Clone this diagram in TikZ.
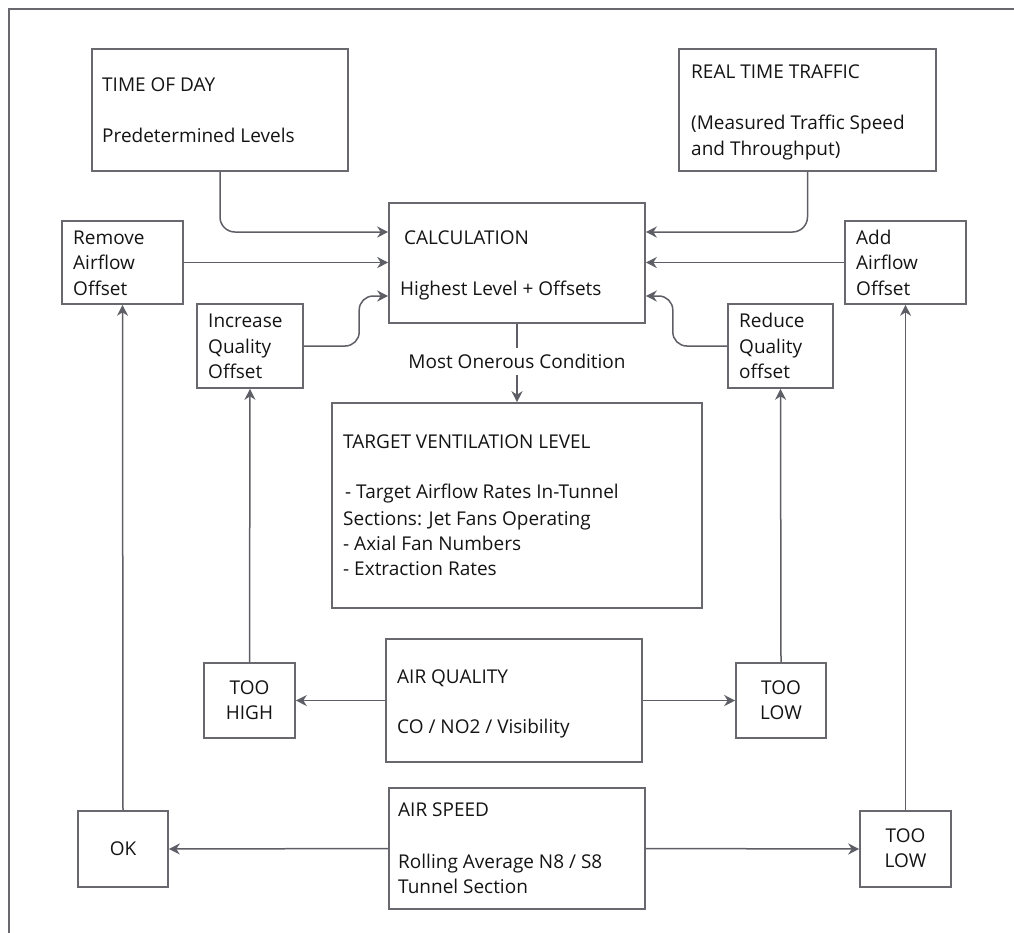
\documentclass[tikz,border=0pt]{standalone}
\usepackage{fontspec}
\setmainfont{Open Sans}
\usetikzlibrary{arrows.meta}
\definecolor{boxgray}{RGB}{104,104,110}
\definecolor{linegray}{RGB}{94,94,102}
\definecolor{txt}{RGB}{20,20,20}
\tikzset{
  box/.style={draw=boxgray, line width=1.6pt, rectangle, inner sep=0pt},
  lbl/.style={anchor=base west, inner sep=0pt, text=txt, font=\fontsize{19}{23}\selectfont},
  clbl/.style={anchor=base, inner sep=0pt, text=txt, font=\fontsize{19}{23}\selectfont},
  conn/.style={draw=linegray, line width=1.5pt, -{Stealth[length=11pt,width=11pt,inset=3.5pt]}},
  plain/.style={draw=linegray, line width=1.5pt},
}
\begin{document}
\begin{tikzpicture}[x=1pt,y=-1pt]
\useasboundingbox (0,0) rectangle (1014,932);
% outer frame
\draw[draw=boxgray, line width=2.2pt] (9,940) -- (9,9) -- (1020,9);

% boxes
\node[box, minimum width=256pt, minimum height=122pt] (tod) at (220,110) {};
\node[box, minimum width=257pt, minimum height=122pt] (rtt) at (807.5,110) {};
\node[box, minimum width=256pt, minimum height=120pt] (calc) at (517,263) {};
\node[box, minimum width=121pt, minimum height=83pt] (rem) at (122.5,262.5) {};
\node[box, minimum width=121pt, minimum height=83pt] (add) at (905.5,262.5) {};
\node[box, minimum width=106pt, minimum height=84pt] (inc) at (250,346) {};
\node[box, minimum width=105pt, minimum height=84pt] (red) at (780.5,346) {};
\node[box, minimum width=370pt, minimum height=205pt] (target) at (517,505.5) {};
\node[box, minimum width=256pt, minimum height=123pt] (aq) at (514,700.5) {};
\node[box, minimum width=91pt, minimum height=75pt] (tooh) at (249.5,700.5) {};
\node[box, minimum width=90pt, minimum height=75pt] (tool1) at (781,700.5) {};
\node[box, minimum width=256pt, minimum height=121pt] (as) at (517,848.5) {};
\node[box, minimum width=90pt, minimum height=76pt] (ok) at (123,849) {};
\node[box, minimum width=91pt, minimum height=76pt] (tool2) at (905.5,849) {};

% texts
\node[lbl] (tod1) at (102,91) {TIME OF DAY};
\node[lbl] (tod2) at (102,142) {Predetermined Levels};
\node[lbl] (rtt1) at (691,78) {REAL TIME TRAFFIC};
\node[lbl] (rtt2) at (691,129) {(Measured Traffic Speed};
\node[lbl] (rtt3) at (691,155) {and Throughput)};
\node[lbl] (calc1) at (404,244) {CALCULATION};
\node[lbl] (calc2) at (400,295) {Highest Level + Offsets};
\node[lbl] (rem1) at (73,244) {Remove};
\node[lbl] (rem2) at (73,269) {Airflow};
\node[lbl] (rem3) at (73,295) {Offset};
\node[lbl] (add1) at (856,244) {Add};
\node[lbl] (add2) at (856,269) {Airflow};
\node[lbl] (add3) at (856,295) {Offset};
\node[lbl] (inc1) at (208,327) {Increase};
\node[lbl] (inc2) at (208,353) {Quality};
\node[lbl] (inc3) at (208,378) {Offset};
\node[lbl] (red1) at (739,327) {Reduce};
\node[lbl] (red2) at (739,353) {Quality};
\node[lbl] (red3) at (739,378) {offset};
\node[lbl] (tg1) at (343,448) {TARGET VENTILATION LEVEL};
\node[lbl] (tg2) at (343,498) {\hspace{2pt}- Target Airflow Rates In-Tunnel};
\node[lbl] (tg3) at (343,525) {Sections: Jet Fans Operating};
\node[lbl] (tg4) at (343,550) {- Axial Fan Numbers};
\node[lbl] (tg5) at (343,575) {- Extraction Rates};
\node[lbl] (aq1) at (397,683) {AIR QUALITY};
\node[lbl] (aq2) at (397,733) {CO / NO2 / Visibility};
\node[clbl] (th1) at (249.5,694) {TOO};
\node[clbl] (th2) at (249.5,719) {HIGH};
\node[clbl] (tl1a) at (781,694) {TOO};
\node[clbl] (tl1b) at (781,719) {LOW};
\node[lbl] (as1) at (398,816) {AIR SPEED};
\node[lbl] (as2) at (398,868) {Rolling Average N8 / S8};
\node[lbl] (as3) at (398,893) {Tunnel Section};
\node[clbl] (ok1) at (123,855) {OK};
\node[clbl] (tl2a) at (905.5,842) {TOO};
\node[clbl] (tl2b) at (905.5,867) {LOW};

% connectors into calculation
\draw[conn, rounded corners=15pt] (tod.south) |- ([yshift=31pt]calc.west);
\draw[conn, rounded corners=15pt] (rtt.south) |- ([yshift=31pt]calc.east);
\draw[conn] (rem.east) -- (rem.east -| calc.west);
\draw[conn] (add.west) -- (add.west -| calc.east);
\draw[conn, rounded corners=14pt] (inc.east) -| ([xshift=-29pt,yshift=-33pt]calc.west) -- ([yshift=-33pt]calc.west);
\draw[conn, rounded corners=14pt] (red.west) -| ([xshift=27pt,yshift=-33pt]calc.east) -- ([yshift=-33pt]calc.east);

% calculation to target
\draw[conn] (calc.south) -- node[pos=0.48, fill=white, inner xsep=2pt, inner ysep=6.5pt, text=txt, font=\fontsize{19}{23}\selectfont] (moc) {Most Onerous Condition} (target.north);

% air quality
\draw[conn] (aq.west) -- (tooh.east);
\draw[conn] (aq.east) -- (tool1.west);
\draw[conn] (tooh.north) -- (inc.south);
\draw[conn] (tool1.north) -- (red.south);

% air speed
\draw[conn] (as.west) -- (ok.east);
\draw[conn] (as.east) -- (tool2.west);
\draw[conn] (ok.north) -- (rem.south);
\draw[conn] (tool2.north) -- (add.south);
\end{tikzpicture}
\end{document}
